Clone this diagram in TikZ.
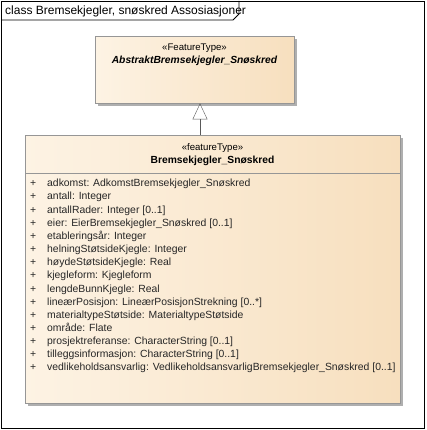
\documentclass[tikz,border=0pt]{standalone}
\usepackage{fontspec}
\setmainfont{Liberation Sans}
\usepackage{tikz}
\usetikzlibrary{arrows.meta,positioning,shadows}
\definecolor{classleft}{RGB}{253,243,228}
\definecolor{classright}{RGB}{247,223,190}
\definecolor{classline}{RGB}{150,150,150}
\definecolor{classshadow}{RGB}{175,175,175}

\begin{document}
\begin{tikzpicture}[x=1pt, y=-1pt,
  classbox/.style={draw=classline, left color=classleft, right color=classright,
                   inner sep=0pt, anchor=north west,
                   drop shadow={shadow xshift=3pt, shadow yshift=-3pt,
                                fill=classshadow, opacity=1}},
  stereo/.style={font=\fontsize{9.6}{11}\selectfont, anchor=base, inner sep=0pt},
  attr/.style={font=\fontsize{10.4}{12}\selectfont, anchor=base west, inner sep=0pt,
               text=black!85},
  gen/.style={-{Triangle[open, length=16pt, width=15pt]}, draw=black!65}]
\useasboundingbox (0,0) rectangle (426,430);
% frame and title tab
\draw[line width=0.8pt] (1,1) rectangle (424,428);
\draw[line width=0.8pt] (1,20) -- (233,20) -- (239,14) -- (239,1);
\node[font=\fontsize{12}{14}\selectfont, anchor=base west, inner sep=0pt] (title)
  at (5,14.8) {class Bremsekjegler, snøskred Assosiasjoner};
% abstract class
\node[classbox, minimum width=199pt, minimum height=67pt] (abstrakt) at (95,36) {};
\node[stereo] (abstrakttype) at (194.5,50.5) {«FeatureType»};
\node[stereo, font=\fontsize{10.3}{12}\selectfont\bfseries\itshape] (abstraktnavn)
  at (194.5,63.8) {AbstraktBremsekjegler\_Snøskred};
% feature type
\node[classbox, minimum width=375pt, minimum height=268pt] (bremsekjegler) at (25,135) {};
\draw[classline] (25,173) -- (400,173);
\node[stereo] (bremsetype) at (212.5,150.5) {«featureType»};
\node[stereo, font=\fontsize{10.3}{12}\selectfont\bfseries] (bremsenavn)
  at (212.5,163.8) {Bremsekjegler\_Snøskred};
\foreach [count=\i] \a in {
  adkomst: AdkomstBremsekjegler\_Snøskred,
  antall: Integer,
  antallRader: Integer [0..1],
  eier: EierBremsekjegler\_Snøskred [0..1],
  etableringsår: Integer,
  helningStøtsideKjegle: Integer,
  høydeStøtsideKjegle: Real,
  kjegleform: Kjegleform,
  lengdeBunnKjegle: Real,
  lineærPosisjon: LineærPosisjonStrekning [0..*],
  materialtypeStøtside: MaterialtypeStøtside,
  område: Flate,
  prosjektreferanse: CharacterString [0..1],
  tilleggsinformasjon: CharacterString [0..1],
  vedlikeholdsansvarlig: VedlikeholdsansvarligBremsekjegler\_Snøskred [0..1]}
{
  \node[attr] (pluss\i) at (30,186.8+13.15*\i-13.15) {+};
  \node[attr] (attr\i) at (47,186.8+13.15*\i-13.15) {\a};
}
% generalization
\coordinate (genx) at (200,0);
\draw[gen] (bremsekjegler.north -| genx) -- (abstrakt.south -| genx);
\end{tikzpicture}
\end{document}
